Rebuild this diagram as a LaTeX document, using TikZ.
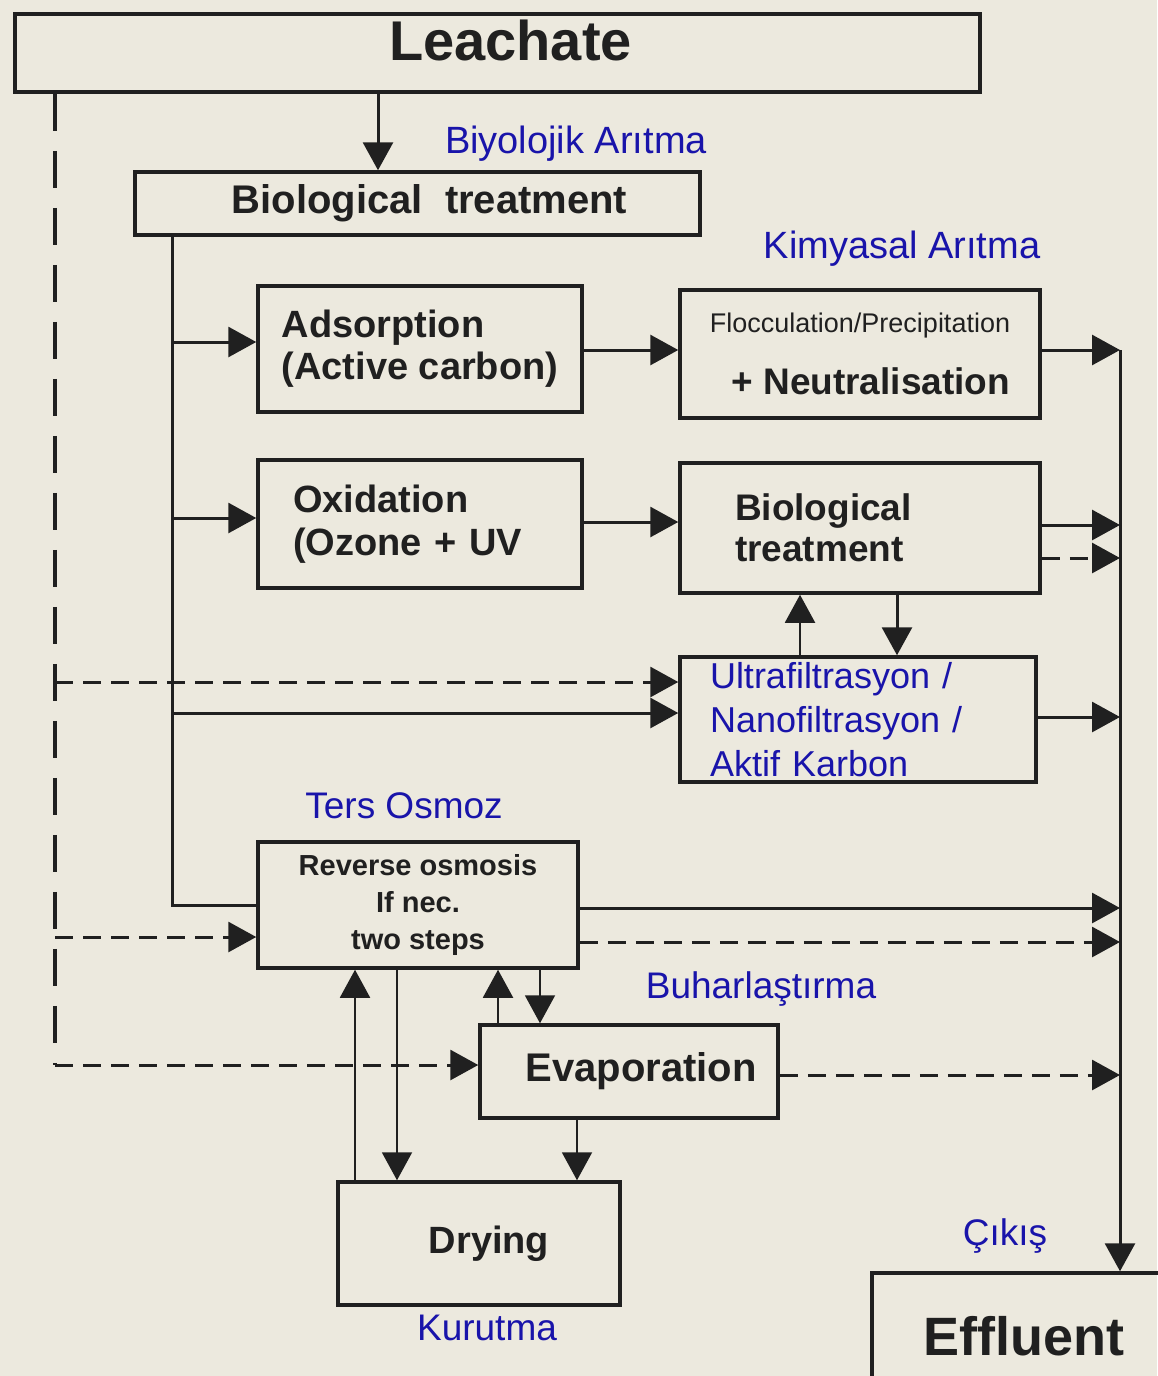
\documentclass[tikz,border=0pt]{standalone}
\usepackage{fontspec}
\setmainfont{Liberation Sans}
\usetikzlibrary{arrows.meta}
\definecolor{bg}{RGB}{236,233,222}
\definecolor{ink}{RGB}{32,32,32}
\definecolor{lblue}{RGB}{25,20,170}
\tikzset{
  box/.style={draw=ink, line width=3.5pt, inner sep=0pt, text=ink},
  conn/.style={draw=ink, line width=3pt, -{Triangle[length=28pt,width=30pt]}},
  thinconn/.style={draw=ink, line width=2pt, -{Triangle[length=28pt,width=30pt]}},
  plain/.style={draw=ink, line width=3pt},
  dsh/.style={draw=ink, line width=3pt, dash pattern=on 18pt off 10pt},
  longdsh/.style={draw=ink, line width=4.5pt, dash pattern=on 37pt off 20pt},
  dconn/.style={dsh, -{Triangle[length=28pt,width=30pt]}},
  lab/.style={text=lblue, font=\fontsize{37}{44}\selectfont, inner sep=0pt, anchor=base},
}
\begin{document}
\begin{tikzpicture}[x=1pt,y=-1pt]
\useasboundingbox (0,0) rectangle (1157,1376);
\fill[bg] (0,0) rectangle (1157,1376);

% boxes
\node[box, minimum width=965pt, minimum height=78pt, text depth=26pt,
      font=\fontsize{56}{60}\selectfont\bfseries] (leach) at (497.5,53) {\hspace*{26pt}Leachate};
\node[box, minimum width=565pt, minimum height=63pt,
      font=\fontsize{40}{44}\selectfont\bfseries] (bio) at (417.5,203.5) {\hspace*{24pt}Biological\ \ treatment};
\node[box, minimum width=324pt, minimum height=126pt, align=left,
      font=\fontsize{38}{42}\selectfont\bfseries] (ads) at (420,349) {Adsorption\\(Active carbon)};
\node[box, minimum width=360pt, minimum height=128pt, align=right,
      font=\fontsize{37}{44}\selectfont\bfseries] (floc) at (860,354)
      {{\mdseries\fontsize{27}{32}\selectfont Flocculation/Precipitation}\\[18pt]+ Neutralisation};
\node[box, minimum width=324pt, minimum height=128pt, text width=254pt, align=left,
      font=\fontsize{38}{43}\selectfont\bfseries] (oxi) at (420,524) {Oxidation\\(Ozone + UV};
\node[box, minimum width=360pt, minimum height=130pt, text width=250pt, align=left,
      font=\fontsize{37}{41}\selectfont\bfseries] (bio2) at (860,528) {Biological\\treatment};
\node[box, minimum width=356pt, minimum height=125pt, text width=296pt, align=left,
      text=lblue, font=\fontsize{36}{44}\selectfont] (uf) at (858,719.5)
      {Ultrafiltrasyon /\\Nanofiltrasyon /\\Aktif Karbon};
\node[box, minimum width=320pt, minimum height=126pt, align=center,
      font=\fontsize{29}{37}\selectfont\bfseries] (ro) at (418,905)
      {Reverse osmosis\\If nec.\\two steps};
\node[box, minimum width=298pt, minimum height=93pt,
      font=\fontsize{40}{44}\selectfont\bfseries] (evap) at (629,1071.5) {\hspace*{24pt}Evaporation};
\node[box, minimum width=282pt, minimum height=123pt,
      font=\fontsize{38}{42}\selectfont\bfseries] (dry) at (479,1243.5) {\hspace*{20pt}Drying};
\node[box, minimum width=303pt, minimum height=127pt,
      font=\fontsize{54}{58}\selectfont\bfseries] (eff) at (1023.5,1336.5) {Effluent};

% blue labels
\node[lab, font=\fontsize{38}{44}\selectfont] (lbio) at (576,153) {Biyolojik Arıtma};
\node[lab, font=\fontsize{38}{44}\selectfont] (lkim) at (902,258) {Kimyasal Arıtma};
\node[lab] (lters) at (404,818) {Ters Osmoz};
\node[lab] (lbuh) at (761,998) {Buharlaştırma};
\node[lab] (lkur) at (487,1340) {Kurutma};
\node[lab] (lcik) at (1005,1245) {Çıkış};

% helper coordinates
\coordinate (lt) at (172,0);
\coordinate (dl) at (55,0);
\coordinate (xL) at (378,0);
\coordinate (rt) at (1120,350);
\coordinate (yA) at (0,342);
\coordinate (yAF) at (0,350);
\coordinate (yO) at (0,518);
\coordinate (yOB) at (0,522);
\coordinate (yB1) at (0,525);
\coordinate (yB2) at (0,558);
\coordinate (xU) at (800,0);
\coordinate (xD) at (897,0);
\coordinate (yUd) at (0,682);
\coordinate (yUs) at (0,713);
\coordinate (yUr) at (0,717);
\coordinate (yR1) at (0,908);
\coordinate (yR2) at (0,942);
\coordinate (yRd) at (0,937);
\coordinate (xRE1) at (498,0);
\coordinate (xRE2) at (540,0);
\coordinate (xRD1) at (355,0);
\coordinate (xRD2) at (397,0);
\coordinate (xED) at (577,0);
\coordinate (yEd) at (0,1065);
\coordinate (yEr) at (0,1075);

% main flow
\draw[conn] (leach.south -| xL) -- (bio.north -| xL);
\draw[plain] (bio.south -| lt) |- (ro.west);
\draw[conn] (lt |- yA) -- (ads.west |- yA);
\draw[conn] (lt |- yO) -- (oxi.west |- yO);
\draw[conn] (lt |- yUs) -- (uf.west |- yUs);
\draw[conn] (ads.east |- yAF) -- (floc.west |- yAF);
\draw[conn] (oxi.east |- yOB) -- (bio2.west |- yOB);

% right trunk to effluent
\draw[conn] (rt) -- (eff.north -| rt);
\draw[conn] (floc.east |- yAF) -- (rt |- yAF);
\draw[conn] (bio2.east |- yB1) -- (rt |- yB1);
\draw[dconn] (bio2.east |- yB2) -- (rt |- yB2);
\draw[conn] (uf.east |- yUr) -- (rt |- yUr);
\draw[conn] (ro.east |- yR1) -- (rt |- yR1);
\draw[dconn] (ro.east |- yR2) -- (rt |- yR2);
\draw[dconn] (evap.east |- yEr) -- (rt |- yEr);

% bio2 <-> uf
\draw[thinconn] (uf.north -| xU) -- (bio2.south -| xU);
\draw[conn] (bio2.south -| xD) -- (uf.north -| xD);

% ro <-> evaporation / drying
\draw[thinconn] (evap.north -| xRE1) -- (ro.south -| xRE1);
\draw[thinconn] (ro.south -| xRE2) -- (evap.north -| xRE2);
\draw[thinconn] (dry.north -| xRD1) -- (ro.south -| xRD1);
\draw[thinconn] (ro.south -| xRD2) -- (dry.north -| xRD2);
\draw[thinconn] (evap.south -| xED) -- (dry.north -| xED);

% dashed bypass from leachate
\draw[longdsh] (leach.south -| dl) -- (dl |- yEd);
\draw[dconn] (dl |- yEd) -- (evap.west |- yEd);
\draw[dconn] (dl |- yUd) -- (uf.west |- yUd);
\draw[dconn] (dl |- yRd) -- (ro.west |- yRd);
\end{tikzpicture}
\end{document}
